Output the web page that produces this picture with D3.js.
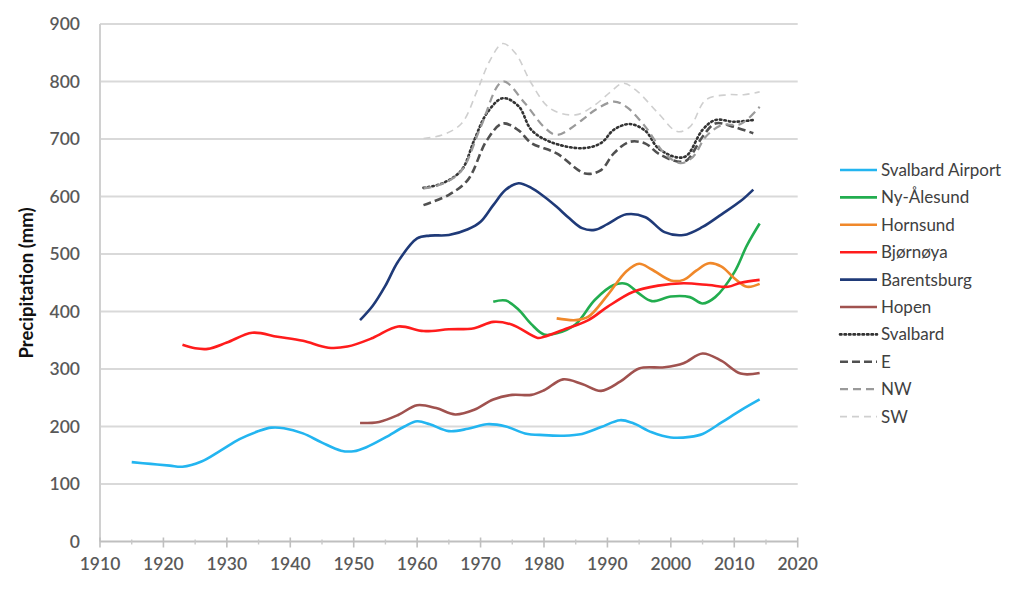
<!DOCTYPE html>
<html><head><meta charset="utf-8">
<script src="https://cdn.jsdelivr.net/npm/d3@7"></script>
<style>
body{margin:0;background:#fff;}
svg text{font-family:Lato,"Open Sans",sans-serif;}
</style></head>
<body><svg id="c" width="1024" height="590"></svg>
<script>
// ---- data ----
const xTicks = [1910,1920,1930,1940,1950,1960,1970,1980,1990,2000,2010,2020];
const yTicks = [0,100,200,300,400,500,600,700,800,900];

const airportYears = [1915,1918,1921,1923,1926,1929,1932,1935,1937,1939,1942,1945,1948,1950,1952,1955,1958,1960,1962,1965,1968,1971,1974,1977,1980,1983,1986,1989,1992,1994,1997,2000,2003,2005,2008,2011,2014];
const airportVals  = [138,135,132,130,139,158,178,192,198,197,188,172,158,157,164,181,200,209,204,192,196,204,200,188,185,184,187,199,211,206,190,181,182,187,207,228,247];

const nyYears = [1972,1974,1976,1978,1980,1982,1985,1988,1991,1993,1995,1997,2000,2003,2005,2007,2010,2012,2014];
const nyVals  = [417,419,403,378,360,362,378,420,446,448,431,418,426,425,414,425,468,515,553];

const hornYears = [1982,1985,1987,1990,1993,1995,1997,2000,2002,2004,2006,2008,2010,2012,2014];
const hornVals  = [388,385,391,428,470,483,473,454,455,471,484,478,458,443,448];

const bjornYears = [1923,1925,1927,1930,1934,1938,1942,1946,1949,1953,1957,1961,1965,1969,1972,1975,1979,1980,1983,1987,1990,1994,1998,2002,2006,2009,2011,2014];
const bjornVals  = [342,336,335,346,363,356,349,337,339,354,374,366,369,371,382,377,354,356,368,385,408,434,445,449,446,443,450,455];

const barYears = [1951,1953,1955,1957,1960,1962,1965,1968,1970,1972,1974,1976,1978,1980,1982,1984,1986,1988,1990,1993,1996,1999,2002,2005,2008,2011,2013];
const barVals  = [385,410,445,487,527,532,533,543,556,585,612,623,615,600,582,562,545,542,552,569,564,538,533,547,569,592,612];

const hopenYears = [1951,1954,1957,1960,1963,1966,1969,1972,1975,1978,1980,1983,1986,1989,1992,1995,1999,2002,2005,2008,2011,2014];
const hopenVals  = [206,208,220,237,232,221,229,247,255,255,263,282,274,262,278,301,303,310,327,314,292,293];

const svalYears = [1961,1964,1967,1969,1971,1973.5,1976,1978,1981,1986,1989,1991,1993.5,1996,1998,2001,2002.5,2005,2007,2010,2013];
const svalVals  = [615,623,646,698,745,771,757,716,695,684,693,716,726,714,684,668,671,716,733,730,733];

const eYears = [1961,1965,1968,1971,1973.5,1976,1978,1982,1986.5,1989,1991,1993.5,1996,1998,2001,2002.5,2005,2007,2010,2013];
const eVals  = [585,603,629,698,727,715,693,675,640,646,675,695,692,675,661,663,704,727,721,710];

const nwYears = [1961,1964,1967,1970,1973.5,1977,1980,1982,1986,1988,1991,1993,1996,1999,2001.5,2003.5,2005.5,2008,2011,2014];
const nwVals  = [614,622,645,720,800,762,721,707,733,750,765,756,721,675,658,669,704,724,726,756];

const swYears = [1961,1964,1967,1969.5,1971.5,1973.5,1975.5,1978,1981,1985,1988,1990.5,1992.5,1994.5,1998,2001,2003,2005.5,2009,2011.5,2014];
const swVals  = [701,707,727,785,837,866,849,797,753,742,759,782,797,785,745,713,721,768,777,777,782];

const seriesNames = ["Svalbard Airport","Ny-Ålesund","Hornsund","Bjørnøya","Barentsburg","Hopen","Svalbard","E","NW","SW"];
const seriesYears = [airportYears,nyYears,hornYears,bjornYears,barYears,hopenYears,svalYears,eYears,nwYears,swYears];
const seriesVals  = [airportVals,nyVals,hornVals,bjornVals,barVals,hopenVals,svalVals,eVals,nwVals,swVals];
const seriesColors = ["#23b5f0","#22ad4f","#f0882a","#ff1c1c","#1f3a78","#a0524f","#333333","#505050","#9a9a9a","#cfcfcf"];
const seriesWidths = [2.6,2.6,2.6,2.6,2.6,2.6,2.6,2.6,2.2,1.6];
const seriesDash   = [null,null,null,null,null,null,"1.5,3","8,4","8,5","7,5"];

// ---- chart ----
const svg = d3.select("#c");
const x = d3.scaleLinear().domain([1910,2020]).range([100,797.7]);
const y = d3.scaleLinear().domain([0,900]).range([541.5,24]);

// gridlines
svg.append("g").selectAll("line").data(yTicks.filter(d=>d>0)).join("line")
  .attr("x1",x(1910)).attr("x2",x(2020)).attr("y1",d=>y(d)).attr("y2",d=>y(d))
  .attr("stroke","#d9d9d9").attr("stroke-width",2);

// y axis line
svg.append("line").attr("x1",x(1910)).attr("x2",x(1910)).attr("y1",y(900)).attr("y2",y(0))
  .attr("stroke","#d0d0d0").attr("stroke-width",2);
// x axis
const xa = svg.append("g").attr("transform",`translate(0,${y(0)})`);
xa.append("line").attr("x1",x(1910)).attr("x2",x(2020)).attr("stroke","#bfbfbf").attr("stroke-width",2);
const minor = d3.range(1915,2020,10);
xa.selectAll("line.maj").data(xTicks).join("line").attr("class","maj")
  .attr("x1",d=>x(d)).attr("x2",d=>x(d)).attr("y1",-4).attr("y2",6).attr("stroke","#bfbfbf").attr("stroke-width",1.6);
xa.selectAll("line.min").data(minor).join("line").attr("class","min")
  .attr("x1",d=>x(d)).attr("x2",d=>x(d)).attr("y1",-2).attr("y2",3).attr("stroke","#c8c8c8").attr("stroke-width",1.4);
xa.selectAll("text").data(xTicks).join("text")
  .attr("x",d=>x(d)).attr("y",28).attr("text-anchor","middle")
  .attr("font-size",17.5).attr("font-weight",600).attr("fill","#595959").text(d=>d);

// y tick labels
svg.append("g").selectAll("text").data(yTicks).join("text")
  .attr("x",80).attr("y",d=>y(d)+6).attr("text-anchor","end")
  .attr("font-size",17.5).attr("font-weight",600).attr("fill","#595959").text(d=>d);

// y title
svg.append("text").attr("transform","translate(33,283) rotate(-90)")
  .attr("text-anchor","middle").attr("font-size",18.5).attr("font-weight","bold")
  .attr("fill","#111").text("Precipitation (mm)");

// series
const line = d3.line().x(d=>x(d[0])).y(d=>y(d[1])).curve(d3.curveCatmullRom.alpha(0.5));
seriesNames.forEach((n,i)=>{
  const pts = seriesYears[i].map((yr,j)=>[yr,seriesVals[i][j]]);
  const p = svg.append("path").datum(pts).attr("d",line)
    .attr("fill","none").attr("stroke",seriesColors[i]).attr("stroke-width",seriesWidths[i])
    .attr("stroke-linejoin","round");
  if(seriesDash[i]) p.attr("stroke-dasharray",seriesDash[i]);
  if(n==="Svalbard") p.attr("stroke-linecap","round");
});

// legend
const lg = svg.append("g");
seriesNames.forEach((n,i)=>{
  const yy = 170 + i*27.4;
  const l = lg.append("line").attr("x1",840).attr("x2",877).attr("y1",yy).attr("y2",yy)
    .attr("stroke",seriesColors[i]).attr("stroke-width",seriesWidths[i]);
  if(seriesDash[i]) l.attr("stroke-dasharray",seriesDash[i]);
  if(n==="Svalbard") l.attr("stroke-linecap","round");
  lg.append("text").attr("x",881).attr("y",yy+6).attr("font-size",17).attr("fill","#404040").text(n);
});
</script></body></html>
